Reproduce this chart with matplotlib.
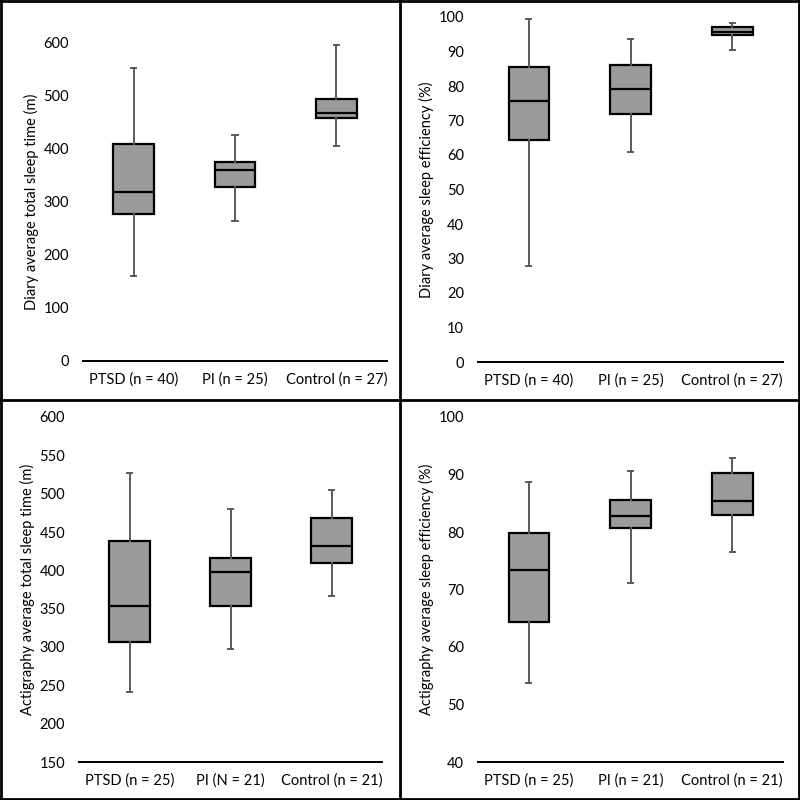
import matplotlib
matplotlib.use("Agg")
import matplotlib.pyplot as plt
from matplotlib.lines import Line2D

plt.rcParams['font.family'] = ['Lato', 'DejaVu Sans']

# five-number summaries: (low, q1, median, q3, high)
diary_tst_labels = ["PTSD (n = 40)", "PI (n = 25)", "Control (n = 27)"]
diary_tst = [(159, 276, 318, 408, 551),
             (264, 327, 360, 375, 425),
             (405, 457, 467, 493, 595)]

diary_se_labels = ["PTSD (n = 40)", "PI (n = 25)", "Control (n = 27)"]
diary_se = [(27.8, 64.3, 75.7, 85.6, 99.5),
            (60.9, 71.9, 79.1, 86.0, 93.6),
            (90.5, 94.7, 95.6, 97.0, 98.4)]

acti_tst_labels = ["PTSD (n = 25)", "PI (N = 21)", "Control (n = 21)"]
acti_tst = [(241, 306, 353, 438, 527),
            (297, 353, 398, 416, 480),
            (367, 409, 432, 468, 505)]

acti_se_labels = ["PTSD (n = 25)", "PI (n = 21)", "Control (n = 21)"]
acti_se = [(53.8, 64.4, 73.4, 79.9, 88.7),
           (71.1, 80.7, 82.7, 85.5, 90.6),
           (76.5, 82.9, 85.4, 90.3, 92.8)]

panels = [
    (diary_tst, diary_tst_labels, "Diary average total sleep time (m)", (0, 600), 100),
    (diary_se, diary_se_labels, "Diary average sleep efficiency (%)", (0, 100), 10),
    (acti_tst, acti_tst_labels, "Actigraphy average total sleep time (m)", (150, 600), 50),
    (acti_se, acti_se_labels, "Actigraphy average sleep efficiency (%)", (40, 100), 10),
]

# axes rectangles in pixels: left, top, right, bottom
rects = [(83, 42, 387, 361), (478, 17, 783, 362),
         (79, 417, 382, 762), (478, 417, 783, 762)]

W = H = 800
fig = plt.figure(figsize=(8, 8), dpi=100)

for (stats, labels, ylabel, ylim, step), (l, t, r, b) in zip(panels, rects):
    ax = fig.add_axes([l / W, 1 - b / H, (r - l) / W, (b - t) / H])
    bxp_stats = []
    for lab, (lo, q1, med, q3, hi) in zip(labels, stats):
        bxp_stats.append(dict(label=lab, whislo=lo, q1=q1, med=med,
                              q3=q3, whishi=hi, fliers=[]))
    ax.bxp(bxp_stats, widths=0.4, patch_artist=True, showfliers=False,
           boxprops=dict(facecolor="#9b9b9b", edgecolor="black", linewidth=1.6),
           medianprops=dict(color="black", linewidth=1.6),
           whiskerprops=dict(color="#5a5a5a", linewidth=1.4),
           capprops=dict(color="#5a5a5a", linewidth=1.4),
           capwidths=0.05)
    ax.set_xlim(0.5, 3.5)
    ax.set_ylim(*ylim)
    ax.set_yticks(range(ylim[0], ylim[1] + 1, step))
    for s in ["top", "right", "left"]:
        ax.spines[s].set_visible(False)
    ax.spines["bottom"].set_linewidth(1.4)
    ax.tick_params(axis="both", length=0, labelsize=10.5)
    ax.tick_params(axis="y", pad=10)
    ax.tick_params(axis="x", pad=8)
    ax.set_ylabel(ylabel, fontsize=10.5, labelpad=3)
    ax.patch.set_alpha(0)

# panel borders
lw = 2
for x0, y0, x1, y1 in [(0, 0.5, 1, 0.5), (0.5, 0, 0.5, 1),
                       (0.001, 0, 0.001, 1), (0.999, 0, 0.999, 1),
                       (0, 0.001, 1, 0.001), (0, 0.999, 1, 0.999)]:
    fig.add_artist(Line2D([x0, x1], [y0, y1], color="black", linewidth=lw,
                          transform=fig.transFigure))

fig.savefig("out.png", dpi=100)
